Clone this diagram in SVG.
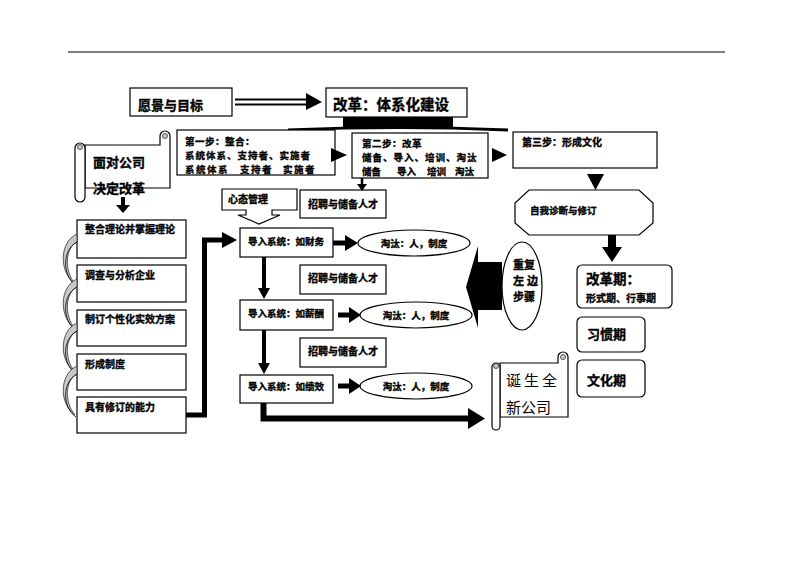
<svg xmlns="http://www.w3.org/2000/svg" width="793" height="561" viewBox="0 0 793 561">
<style>
.b{fill:#fff;stroke:#000;stroke-width:1.2}
.t{font-family:"Noto Sans CJK SC","Liberation Sans",sans-serif;font-weight:bold;fill:#000;stroke:#000;stroke-width:0.35}
.r{font-family:"Noto Sans CJK SC","Liberation Sans",sans-serif;font-weight:normal;fill:#000}
.k{fill:#000;stroke:none}
.th{fill:none;stroke:#000}
.g{fill:#c8c8c8;stroke:#333;stroke-width:0.8}
</style>
<rect width="793" height="561" fill="#fff"/>
<line x1="68" y1="52" x2="725" y2="52" stroke="#000" stroke-width="1"/>

<g id="vision">
<rect class="b" x="130" y="88" width="102" height="28"/>
<text class="t" x="138" y="110" font-size="13">愿景与目标</text>
</g>
<g id="reform">
<rect class="b" x="326" y="88" width="141" height="29"/>
<text class="t" x="333" y="110" font-size="14.5">改革：体系化建设</text>
<rect class="k" x="343" y="117" width="110" height="11"/>
<path d="M288,130 Q398,125 508,130" class="th" stroke-width="3"/>
</g>
<g id="step1">
<rect class="b" x="177" y="130" width="158" height="45"/>
<text class="t" x="185" y="144.5" font-size="9.5" letter-spacing="0.5">第一步：整合：</text>
<text class="t" x="185" y="158.5" font-size="9.5" letter-spacing="1">系统体系、支持者、实施者</text>
<text class="t" x="185" y="172.5" font-size="9.5" letter-spacing="1.5">系统体系</text>
<text class="t" x="240" y="172.5" font-size="9.5" letter-spacing="1.5">支持者</text>
<text class="t" x="283" y="172.5" font-size="9.5" letter-spacing="1.5">实施者</text>
</g>
<g id="step2">
<rect class="b" x="352" y="133" width="136" height="45"/>
<text class="t" x="362" y="147" font-size="9.5" letter-spacing="0.5">第二步：改革</text>
<text class="t" x="362" y="161" font-size="9.5" letter-spacing="1">储备、导入、培训、淘汰</text>
<text class="t" x="362" y="175" font-size="9.5">储备</text>
<text class="t" x="397" y="175" font-size="9.5">导入</text>
<text class="t" x="427" y="175" font-size="9.5">培训</text>
<text class="t" x="455" y="175" font-size="9.5">淘汰</text>
</g>
<g id="step3">
<rect class="b" x="513" y="132" width="144" height="36"/>
<text class="t" x="522" y="146" font-size="10">第三步：形成文化</text>
</g>
<g id="diagnose">
<polygon class="b" points="529,190 639,190 653,203 653,223 639,235 529,235 515,223 515,203"/>
<text class="t" x="530" y="214" font-size="9.5">自我诊断与修订</text>
</g>
<g id="reformPeriod">
<rect class="b" x="577" y="265" width="95" height="43" rx="5"/>
<text class="t" x="586" y="284" font-size="13.5">改革期：</text>
<text class="t" x="586" y="302" font-size="10">形式期、行事期</text>
</g>
<g id="habit">
<rect class="b" x="577" y="317" width="68" height="35" rx="5"/>
<text class="t" x="587" y="339" font-size="13">习惯期</text>
</g>
<g id="culture">
<rect class="b" x="577" y="360" width="68" height="37" rx="5"/>
<text class="t" x="587" y="385" font-size="13">文化期</text>
</g>
<g id="repeat">
<ellipse class="b" cx="522" cy="286" rx="20" ry="44"/>
<text class="t" x="513" y="269" font-size="11">重复</text>
<text class="t" x="513" y="285" font-size="11">左</text>
<text class="t" x="527" y="285" font-size="11">边</text>
<text class="t" x="513" y="301" font-size="11">步骤</text>
</g>
<g id="newCompany">
<path class="b" d="M500,363 H558 V357 A5,5 0 0 1 568,357 V417 H500 Z"/>
<circle cx="563" cy="357" r="2.5" class="g"/>
<path class="b" d="M492,367 A4,4 0 0 1 500,367 V426 A4,4 0 0 1 492,426 Z"/>
<circle cx="496" cy="366" r="2.5" class="g"/>
<text class="r" x="506" y="386" font-size="15" letter-spacing="3">诞生全</text>
<text class="r" x="506" y="413" font-size="15">新公司</text>
</g>
<g id="faceCompany">
<path class="b" d="M85,145 H160 V136 A5,5 0 0 1 170,136 V188 H85 Z"/>
<circle cx="165" cy="136" r="2.5" class="g"/>
<path class="b" d="M75,148 A5,5 0 0 1 85,148 V197 A5,5 0 0 1 75,197 Z"/>
<circle cx="80" cy="147" r="2.5" class="g"/>
<text class="t" x="93" y="167" font-size="13">面对公司</text>
<text class="t" x="93" y="193" font-size="13">决定改革</text>
</g>
<g id="left1"><rect class="b" x="77" y="220" width="109" height="38"/><text class="t" x="85" y="233" font-size="10">整合理论并掌握理论</text></g>
<g id="left2"><rect class="b" x="77" y="265" width="109" height="37"/><text class="t" x="85" y="279" font-size="10">调查与分析企业</text></g>
<g id="left3"><rect class="b" x="77" y="310" width="109" height="36"/><text class="t" x="85" y="323" font-size="10">制订个性化实效方案</text></g>
<g id="left4"><rect class="b" x="77" y="354" width="109" height="36"/><text class="t" x="85" y="368" font-size="10">形成制度</text></g>
<g id="left5"><rect class="b" x="77" y="397" width="109" height="36"/><text class="t" x="85" y="411" font-size="10">具有修订的能力</text></g>
<g id="mind">
<path class="b" d="M222,189 H297 V210 H272 V215 H280 L259,224 L238,215 H246 V210 H222 Z"/>
<text class="t" x="228" y="203" font-size="10">心态管理</text>
</g>
<g id="recruit1"><rect class="b" x="300" y="190" width="86" height="28"/><text class="t" x="308" y="208" font-size="10">招聘与储备人才</text></g>
<g id="recruit2"><rect class="b" x="300" y="265" width="86" height="29"/><text class="t" x="308" y="282" font-size="10">招聘与储备人才</text></g>
<g id="recruit3"><rect class="b" x="300" y="338" width="86" height="29"/><text class="t" x="308" y="355" font-size="10">招聘与储备人才</text></g>
<g id="import1"><rect class="b" x="240" y="228" width="93" height="29"/><text class="t" x="248" y="245" font-size="9.5">导入系统：如财务</text></g>
<g id="import2"><rect class="b" x="240" y="300" width="93" height="30"/><text class="t" x="248" y="317" font-size="9.5">导入系统：如薪酬</text></g>
<g id="import3"><rect class="b" x="240" y="375" width="93" height="28"/><text class="t" x="248" y="390" font-size="9.5">导入系统：如绩效</text></g>
<g id="elim1"><ellipse class="b" cx="414" cy="243" rx="56" ry="13"/><text class="t" x="414" y="247" font-size="9.5" text-anchor="middle">淘汰：人，制度</text></g>
<g id="elim2"><ellipse class="b" cx="416" cy="315" rx="56" ry="13"/><text class="t" x="416" y="319" font-size="9.5" text-anchor="middle">淘汰：人，制度</text></g>
<g id="elim3"><ellipse class="b" cx="416" cy="386" rx="56" ry="13"/><text class="t" x="416" y="390" font-size="9.5" text-anchor="middle">淘汰：人，制度</text></g>

<g id="connectors">
<line x1="235" y1="99.5" x2="308" y2="99.5" stroke="#000" stroke-width="2"/>
<line x1="235" y1="104.5" x2="308" y2="104.5" stroke="#000" stroke-width="2"/>
<polygon class="k" points="306,93 322,102 306,110"/>
<polygon class="k" points="331,148 347,155 331,162"/>
<polygon class="k" points="492,148 507,155 492,162"/>
<polygon class="k" points="587,174 604,174 595.5,190"/>
<rect class="k" x="608" y="235" width="8" height="13"/>
<polygon class="k" points="602,247 622,247 612,262"/>
<line x1="362" y1="178" x2="362" y2="186" stroke="#000" stroke-width="2.5"/>
<polygon class="k" points="357,184 367,184 362,191"/>
<polygon class="k" points="502,262 478,262 478,246 466,287 478,328 478,310 502,310"/>
<rect class="k" x="121" y="197" width="4" height="9"/>
<polygon class="k" points="116,205 130,205 123,213"/>
<path class="th" stroke-width="5" d="M186,415 H204.5 V240 H224"/>
<polygon class="k" points="222,232 237,240 222,248"/>
<path class="th" stroke-width="6" d="M263.5,403 V418.5 H470"/>
<polygon class="k" points="468,408 485,418.5 468,429"/>
<line x1="264" y1="257" x2="264" y2="290" stroke="#000" stroke-width="4"/>
<polygon class="k" points="258,288 270,288 264,299"/>
<line x1="264" y1="330" x2="264" y2="365" stroke="#000" stroke-width="4"/>
<polygon class="k" points="258,363 270,363 264,374"/>
<line x1="333" y1="243" x2="347" y2="243" stroke="#000" stroke-width="5"/>
<polygon class="k" points="345,235 358,243 345,251"/>
<line x1="338" y1="315" x2="351" y2="315" stroke="#000" stroke-width="5"/>
<polygon class="k" points="349,307 361,315 349,323"/>
<line x1="338" y1="386" x2="351" y2="386" stroke="#000" stroke-width="5"/>
<polygon class="k" points="349,378 361,386 349,394"/>
<path class="g" d="M77,234 C59,242 59,272 75,284 C64,270 65,248 77,242 Z"/>
<path class="th" stroke-width="0.8" stroke="#333" d="M77,242 C62,250 62,275 76,286"/>
<path class="g" d="M77,279 C59,287 59,317 75,329 C64,315 65,293 77,287 Z"/>
<path class="th" stroke-width="0.8" stroke="#333" d="M77,287 C62,295 62,320 76,331"/>
<path class="g" d="M77,323 C59,331 59,361 75,372 C64,359 65,337 77,331 Z"/>
<path class="th" stroke-width="0.8" stroke="#333" d="M77,331 C62,339 62,364 76,374"/>
<path class="g" d="M77,366 C59,374 59,404 75,415 C64,402 65,380 77,374 Z"/>
<path class="th" stroke-width="0.8" stroke="#333" d="M77,374 C62,382 62,407 76,417"/>
</g>
</svg>
